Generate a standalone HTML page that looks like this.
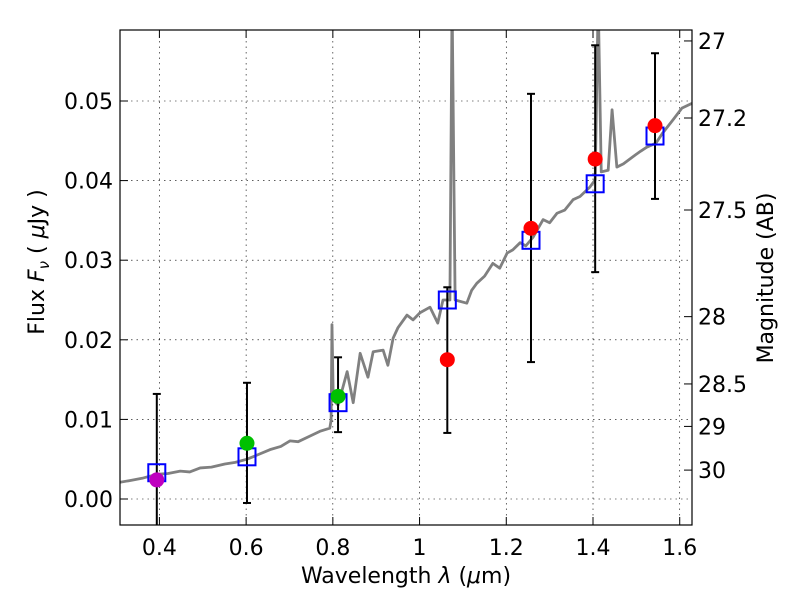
<!DOCTYPE html>
<html><head><meta charset="utf-8"><style>
body{margin:0;background:#fff}
svg text{font-family:"DejaVu Sans","Liberation Sans",sans-serif}
</style></head><body>
<svg id="c" width="800" height="600" xmlns="http://www.w3.org/2000/svg">
<defs><clipPath id="clip"><rect x="120" y="30" width="572" height="495"/></clipPath></defs>
<rect x="0" y="0" width="800" height="600" fill="#fff"/>
<g id="grid"></g>
<g id="spec" clip-path="url(#clip)"></g>
<g id="marks" clip-path="url(#clip)"></g>
<rect x="120" y="30" width="572" height="495" fill="none" stroke="#000" stroke-width="1.2"/>
<g id="axes"></g>
<text x="406" y="583" font-size="22" text-anchor="middle">Wavelength  <tspan font-style="italic">λ</tspan> (<tspan font-style="italic">μ</tspan>m)</text>
<text transform="translate(44,262) rotate(-90)" font-size="22" text-anchor="middle">Flux  <tspan font-style="italic">F</tspan><tspan font-style="italic" font-size="15" dy="5">ν</tspan><tspan dy="-5">  ( </tspan><tspan font-style="italic">μ</tspan>Jy )</text>
<text transform="translate(773,278) rotate(-90)" font-size="22" text-anchor="middle">Magnitude (AB)</text>
</svg>
<script>
const xTicks=[0.4,0.6,0.8,1.0,1.2,1.4,1.6];
const xTickLabels=["0.4","0.6","0.8","1","1.2","1.4","1.6"];
const yTicks=[0,0.01,0.02,0.03,0.04,0.05];
const yTickLabels=["0.00","0.01","0.02","0.03","0.04","0.05"];
const magTicks=[27,27.2,27.5,28,28.5,29,30];
const magTickLabels=["27","27.2","27.5","28","28.5","29","30"];
const specWave=[0.309,0.33,0.36,0.394,0.42,0.448,0.47,0.494,0.52,0.551,0.575,0.602,0.62,0.655,0.68,0.701,0.72,0.747,0.77,0.793,0.796,0.798,0.801,0.812,0.833,0.847,0.863,0.881,0.893,0.916,0.927,0.939,0.950,0.971,0.985,1.001,1.024,1.042,1.054,1.070,1.075,1.082,1.109,1.12,1.132,1.15,1.169,1.185,1.202,1.215,1.232,1.245,1.262,1.285,1.30,1.317,1.335,1.354,1.37,1.393,1.405,1.412,1.419,1.435,1.444,1.455,1.47,1.492,1.51,1.524,1.545,1.561,1.584,1.605,1.628];
const specFlux=[0.0021,0.0023,0.0026,0.0031,0.0032,0.0035,0.0034,0.0039,0.0040,0.0044,0.0046,0.0050,0.0054,0.0062,0.0066,0.0073,0.0072,0.0079,0.0085,0.0089,0.0099,0.0219,0.0124,0.0118,0.0160,0.0121,0.0183,0.0153,0.0185,0.0187,0.0168,0.0202,0.0215,0.0231,0.0225,0.0234,0.0241,0.0221,0.0250,0.0250,0.0627,0.0250,0.0246,0.0262,0.0271,0.0280,0.0296,0.0290,0.0309,0.0313,0.0322,0.0318,0.0329,0.0351,0.0347,0.0359,0.0363,0.0376,0.0380,0.0392,0.0401,0.0627,0.0411,0.0413,0.0489,0.0417,0.0421,0.0430,0.0437,0.0442,0.0447,0.0460,0.0476,0.0491,0.0497];
const photWave=[0.394,0.602,0.812,1.064,1.257,1.405,1.543];
const obsFlux=[0.0024,0.0070,0.0129,0.0175,0.0340,0.0427,0.0469];
const modelFlux=[0.0033,0.0053,0.0121,0.0250,0.0325,0.0396,0.0456];
const errHigh=[0.0132,0.0146,0.0178,0.0266,0.0509,0.0570,0.0560];
const errLow=[-0.0070,-0.0005,0.0084,0.0083,0.0172,0.0285,0.0377];
const obsColor=["#bf00bf","#00c000","#00c000","#ff0000","#ff0000","#ff0000","#ff0000"];

const X=w=>159.4+(w-0.4)*433.6;
const Y=f=>499-f*7960;
const NS="http://www.w3.org/2000/svg";
function mk(tag,parent,attrs){const e=document.createElementNS(NS,tag);for(const k in attrs)e.setAttribute(k,attrs[k]);parent.appendChild(e);return e;}
const grid=document.getElementById('grid'),axes=document.getElementById('axes'),spec=document.getElementById('spec'),marks=document.getElementById('marks');
xTicks.forEach((t,i)=>{const x=X(t);
 const g=mk('line',grid,{x1:x,x2:x,y1:30,y2:525,stroke:'#000','stroke-width':0.6,'stroke-dasharray':'1.5,4'});
 
 
 mk('line',axes,{x1:x,x2:x,y1:525,y2:517,stroke:'#000'});
 mk('line',axes,{x1:x,x2:x,y1:30,y2:38,stroke:'#000'});
 const tx=mk('text',axes,{x:x,y:555,'font-size':22,'text-anchor':'middle'});tx.textContent=xTickLabels[i];
 
 
});
yTicks.forEach((t,i)=>{const y=Y(t);
 const g=mk('line',grid,{x1:120,x2:692,y1:y,y2:y,stroke:'#000','stroke-width':0.6,'stroke-dasharray':'1.5,4'});
 
 
 mk('line',axes,{x1:120,x2:128,y1:y,y2:y,stroke:'#000'});
 const tx=mk('text',axes,{x:113,y:y+8,'font-size':22,'text-anchor':'end'});tx.textContent=yTickLabels[i];
 
 
});
magTicks.forEach((m,i)=>{const y=Y(Math.pow(10,(23.9-m)/2.5));
 mk('line',axes,{x1:692,x2:684,y1:y,y2:y,stroke:'#000'});
 const tx=mk('text',axes,{x:698,y:y+8,'font-size':22});tx.textContent=magTickLabels[i];
 
 
});
const p=mk('polyline',spec,{points:specWave.map((w,i)=>X(w)+','+Y(specFlux[i])).join(' '),fill:'none',stroke:'#808080','stroke-width':2.8,'stroke-linejoin':'round'});


photWave.forEach((w,i)=>{const x=X(w);
 const e=mk('line',marks,{x1:x,x2:x,y1:Y(errHigh[i]),y2:Y(errLow[i]),stroke:'#000','stroke-width':2});
 
 
 mk('line',marks,{x1:x-4,x2:x+4,y1:Y(errHigh[i]),y2:Y(errHigh[i]),stroke:'#000','stroke-width':2});
 mk('line',marks,{x1:x-4,x2:x+4,y1:Y(errLow[i]),y2:Y(errLow[i]),stroke:'#000','stroke-width':2});
 const s=mk('rect',marks,{x:x-8.5,y:Y(modelFlux[i])-8.5,width:17,height:17,fill:'none',stroke:'#0000ff','stroke-width':2});
 
 
 const c=mk('circle',marks,{cx:x,cy:Y(obsFlux[i]),r:7.5,fill:obsColor[i]});
 
 
});
</script>
</body></html>
